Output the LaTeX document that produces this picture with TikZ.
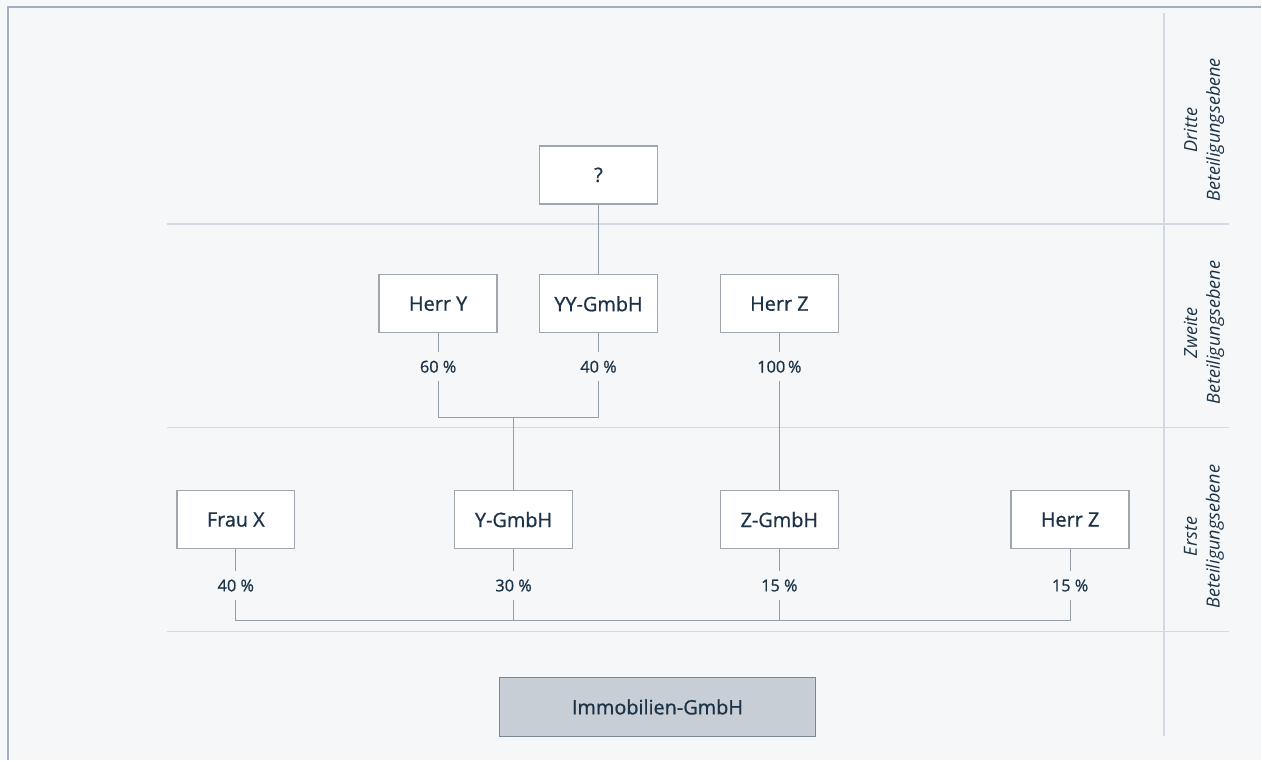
\documentclass[tikz,border=0pt]{standalone}
\usepackage{fontspec}
\setmainfont{Open Sans}
\newfontfamily\medfont{Open Sans}[FakeBold=0.9]
\definecolor{bgcol}{HTML}{F5F7F9}
\definecolor{framecol}{HTML}{A3AEC2}
\definecolor{gridcol}{HTML}{D3D9E2}
\definecolor{boxline}{HTML}{9FA6AE}
\definecolor{wirecol}{HTML}{939DA8}
\definecolor{ink}{HTML}{1C3246}
\definecolor{mainfill}{HTML}{C8CED5}
\definecolor{mainline}{HTML}{768898}

\begin{document}
\begin{tikzpicture}[x=0.02cm,y=-0.02cm,
          entity/.style={draw=boxline,fill=white,line width=0.8pt,minimum width=2.36cm,minimum height=1.16cm,
            text=ink,font=\medfont\fontsize{11.3}{13}\selectfont},
          pct/.style={inner sep=0pt,minimum height=0.56cm,text=ink,font=\medfont\fontsize{9.3}{11}\selectfont},
          level/.style={rotate=90,align=center,text=ink,font=\fontsize{10.3}{13}\selectfont\itshape},
          wire/.style={draw=wirecol,line width=0.7pt},
          grid/.style={draw=gridcol,line width=0.8pt}
        ]
        \path[fill=bgcol] (0,0) rectangle (1262,761);
        \draw[framecol,line width=1.2pt] (8,761) -- (8,7) -- (1262,7);

        % Ebenen
        \draw[grid] (167,224) -- (1230,224);
        \draw[grid] (167,428) -- (1230,428);
        \draw[grid] (167,632) -- (1230,632);
        \draw[grid] (1165,13) -- (1165,737);
        \node[level] (dritte) at (1205,130) {Dritte\\Beteiligungsebene};
        \node[level] (zweite) at (1205,333) {Zweite\\Beteiligungsebene};
        \node[level] (erste)  at (1205,537) {Erste\\Beteiligungsebene};

        % Gesellschafter
        \node[entity] (unbekannt) at (599,175) {?};
        \node[entity] (herry)  at (438.5,304) {Herr Y};
        \node[entity] (yygmbh) at (599,304) {YY-GmbH};
        \node[entity] (herrz)  at (780,304) {Herr Z};
        \node[entity] (fraux)  at (236,520) {Frau X};
        \node[entity] (ygmbh)  at (514,520) {Y-GmbH};
        \node[entity] (zgmbh)  at (780,520) {Z-GmbH};
        \node[entity] (herrz2) at (1071,520) {Herr Z};
        \node[entity,fill=mainfill,draw=mainline,minimum width=6.32cm,minimum height=1.18cm] (immo) at (658,707.5) {Immobilien-GmbH};

        % Anteile
        \node[pct] (p60)  at (438.5,367) {60 \%};
        \node[pct] (p40a) at (599,367) {40 \%};
        \node[pct] (p100) at (780,367) {100\,\%};
        \node[pct] (p40)  at (236,586) {40 \%};
        \node[pct] (p30)  at (514,586) {30 \%};
        \node[pct] (p15a) at (780,586) {15 \%};
        \node[pct] (p15b) at (1071,586) {15 \%};

        \coordinate (yjoin) at (514,418);
        \coordinate (bus) at (514,621);

        \draw[wire] (unbekannt.south) -- (yygmbh.north);
        \draw[wire] (herry.south) -- (p60.north);
        \draw[wire] (yygmbh.south) -- (p40a.north);
        \draw[wire] (p60.south) |- (yjoin) -| (p40a.south);
        \draw[wire] (yjoin) -- (ygmbh.north);
        \draw[wire] (herrz.south) -- (p100.north);
        \draw[wire] (p100.south) -- (zgmbh.north);

        \draw[wire] (fraux.south) -- (p40.north);
        \draw[wire] (ygmbh.south) -- (p30.north);
        \draw[wire] (zgmbh.south) -- (p15a.north);
        \draw[wire] (herrz2.south) -- (p15b.north);
        \draw[wire] (p40.south) |- (bus) -| (p15b.south);
        \draw[wire] (p30.south) -- (bus);
        \draw[wire] (p15a.south) -- (p15a.south |- bus);
        \end{tikzpicture}
\end{document}
